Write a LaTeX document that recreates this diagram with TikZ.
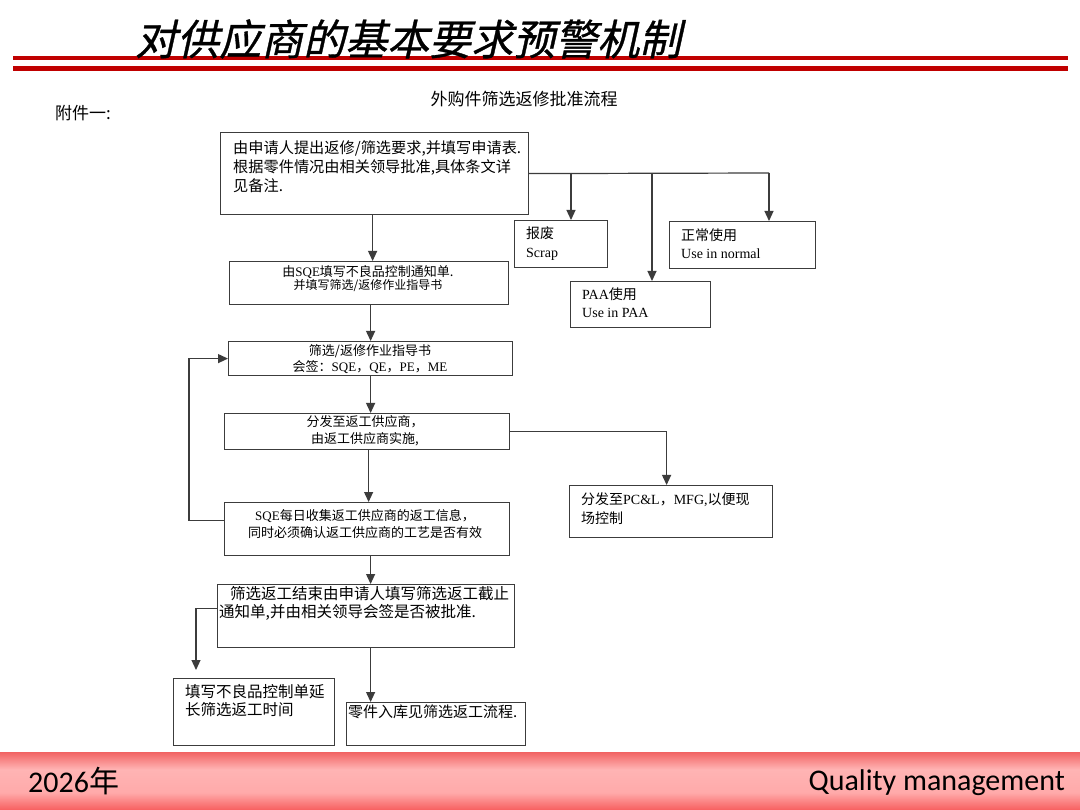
\documentclass[tikz,border=0pt]{standalone}
\usepackage{fontspec}
\setmainfont{Liberation Serif}
\newfontfamily\cjk{Noto Sans CJK SC}
\newfontfamily\cjktitle[FakeSlant=0.22,FakeBold=0.8]{Noto Sans CJK SC}
\newfontfamily\footfont{Carlito}
\usetikzlibrary{arrows.meta,calc}
\newcommand\lat[1]{{\rmfamily #1}}
\definecolor{hdred}{RGB}{192,0,0}
\definecolor{ln}{RGB}{60,60,60}
\definecolor{fA}{RGB}{235,0,0}
\definecolor{fB}{RGB}{242,45,45}
\definecolor{fC}{RGB}{255,170,170}
\definecolor{fD}{RGB}{255,180,180}
\definecolor{fE}{RGB}{235,60,60}
\definecolor{fF}{RGB}{222,32,32}
\definecolor{fG}{RGB}{238,120,120}
\pgfdeclareverticalshading{footshade}{100bp}{color(0bp)=(fA); color(15bp)=(fB); color(40bp)=(fC); color(60bp)=(fD); color(82bp)=(fE); color(93bp)=(fF); color(100bp)=(fG)}
\begin{document}
\begin{tikzpicture}[x=1pt,y=-1pt,
  box/.style={draw=ln, line width=1.2pt, inner sep=0pt, anchor=north west},
  txt/.style={inner sep=0pt, align=left, text=black},
  line/.style={draw=ln, line width=1.2pt},
  arr/.style={draw=ln, line width=1.2pt, -{Triangle[width=9pt,length=10pt]}},
]
\useasboundingbox (0,0) rectangle (1080,810);
\fill[white] (0,0) rectangle (1080,810);

% header
\draw[hdred, line width=4pt] (13,58) -- (1068,58);
\draw[hdred, line width=4.5pt] (13,68.5) -- (1068,68.5);
\node[txt, anchor=west, font=\cjktitle\fontsize{42}{42}\selectfont] (title) at (135,39) {对供应商的基本要求预警机制};
\node[txt, font=\cjk\fontsize{17}{17}\selectfont] (sub) at (524,99) {外购件筛选返修批准流程};
\node[txt, anchor=west, font=\cjk\fontsize{17}{17}\selectfont] (fj) at (55,113) {附件一:};

% boxes
\node[box, minimum width=308pt, minimum height=82pt] (A) at (220,132) {};
\node[box, minimum width=279pt, minimum height=43pt] (B) at (229,261) {};
\node[box, minimum width=93pt, minimum height=47pt] (S) at (514,220) {};
\node[box, minimum width=146pt, minimum height=47pt] (N) at (669,221) {};
\node[box, minimum width=140pt, minimum height=46pt] (P) at (570,281) {};
\node[box, minimum width=284pt, minimum height=34pt] (C) at (228,341) {};
\node[box, minimum width=285pt, minimum height=36pt] (D) at (224,413) {};
\node[box, minimum width=203pt, minimum height=52pt] (E) at (569,485) {};
\node[box, minimum width=285pt, minimum height=53pt] (F) at (224,502) {};
\node[box, minimum width=297pt, minimum height=63pt] (G) at (217,584) {};
\node[box, minimum width=161pt, minimum height=67pt] (H) at (173,678) {};
\node[box, minimum width=179pt, minimum height=43pt] (I) at (346,702) {};

% texts
\node[txt, anchor=north west, font=\cjk\fontsize{15.2}{19}\selectfont] (tA) at (233,140)
  {由申请人提出返修/筛选要求,并填写申请表.\\根据零件情况由相关领导批准,具体条文详\\见备注.};
\node[txt, align=center, font=\cjk] (tB) at (368,278.5)
  {{\fontsize{13}{15}\selectfont 由\lat{SQE}填写不良品控制通知单.}\\{\fontsize{12}{15}\selectfont 并填写筛选/返修作业指导书}};
\node[txt, anchor=north west, font=\cjk\fontsize{14}{19}\selectfont] (tS) at (526,227) {报废\\\lat{Scrap}};
\node[txt, anchor=north west, font=\cjk\fontsize{14}{18}\selectfont] (tN) at (681,229) {正常使用\\\lat{Use in normal}};
\node[txt, anchor=north west, font=\cjk\fontsize{14}{18}\selectfont] (tP) at (582,288) {\lat{PAA}使用\\\lat{Use in PAA}};
\node[txt, align=center, font=\cjk\fontsize{13}{16}\selectfont] (tC) at (370,359)
  {筛选/返修作业指导书\\会签：\lat{SQE}，\lat{QE}，\lat{PE}，\lat{ME}};
\node[txt, align=center, font=\cjk\fontsize{13}{17}\selectfont] (tD) at (365,430.5)
  {分发至返工供应商，\\由返工供应商实施,};
\node[txt, anchor=north west, font=\cjk\fontsize{14}{19}\selectfont] (tE) at (581,492)
  {分发至\lat{PC\&L}，\lat{MFG,}以便现\\场控制};
\node[txt, align=center, font=\cjk\fontsize{13}{17}\selectfont] (tF) at (365,524.5)
  {\lat{SQE}每日收集返工供应商的返工信息，\\同时必须确认返工供应商的工艺是否有效};
\node[txt, anchor=north west, font=\cjk\fontsize{15.5}{18}\selectfont] (tG) at (219,586)
  {\hspace*{11pt}筛选返工结束由申请人填写筛选返工截止\\通知单,并由相关领导会签是否被批准.};
\node[txt, anchor=north west, font=\cjk\fontsize{15.5}{18}\selectfont] (tH) at (185,684)
  {填写不良品控制单延\\长筛选返工时间};
\node[txt, anchor=north west, font=\cjk\fontsize{15}{18}\selectfont] (tI) at (348,704.5)
  {零件入库见筛选返工流程.};

% connectors
\coordinate (ab) at ([xshift=-2pt]A.south);
\draw[arr] (ab) -- (ab |- B.north);
\coordinate (j1) at (571,173);
\coordinate (j2) at (652,173);
\coordinate (j3) at (769,173);
\draw[line] (A.east) -- (j3);
\draw[arr] (j1) -- (j1 |- S.north);
\draw[arr] (j2) -- (j2 |- P.north);
\draw[arr] (j3) -- (j3 |- N.north);
\draw[arr] (C.north |- B.south) -- (C.north);
\draw[arr] (C.south) -- (C.south |- D.north);
\coordinate (eN) at ([xshift=-4.5pt]E.north);
\draw[arr] (D.east) -| (eN);
\coordinate (df) at ([xshift=1.5pt]D.south);
\draw[arr] (df) -- (df |- F.north);
\draw[arr] ([yshift=8.5pt]F.west) -- ++(-35,0) |- (C.west);
\coordinate (fg) at ([xshift=3.5pt]F.south);
\draw[arr] (fg) -- (fg |- G.north);
\coordinate (hT) at ([xshift=23pt,yshift=8pt]H.north west);
\draw[arr] ([yshift=7.5pt]G.west) -| (hT);
\coordinate (gi) at ([xshift=4.5pt]G.south);
\draw[arr] (gi) -- (gi |- I.north);

% footer
\shade[shading=footshade] (0,752) rectangle (1080,810);
\node[txt, anchor=base west, font=\footfont\fontsize{30}{30}\selectfont] (yr) at (28,792) {2026{\cjk 年}};
\node[txt, anchor=base east, font=\footfont\fontsize{30}{30}\selectfont] (qm) at (1065,790) {Quality management};
\end{tikzpicture}
\end{document}
